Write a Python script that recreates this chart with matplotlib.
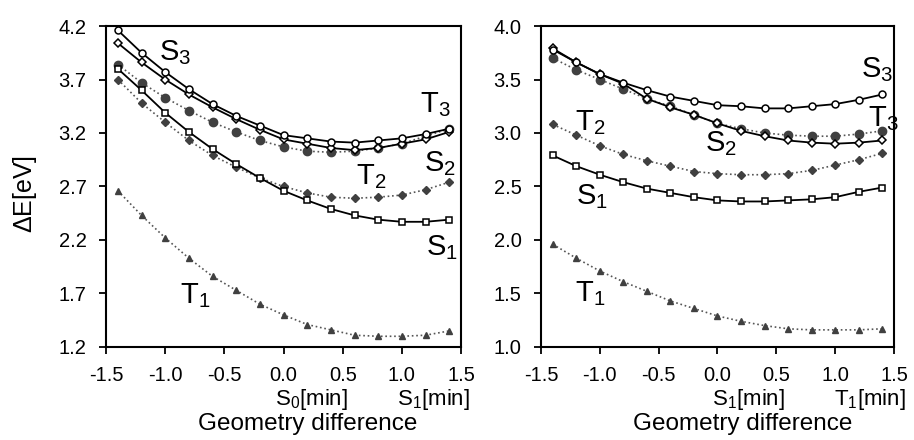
import numpy as np
import matplotlib
matplotlib.use('Agg')
import matplotlib.pyplot as plt

plt.rcParams['font.family'] = ['Liberation Sans', 'DejaVu Sans']
plt.rcParams['mathtext.default'] = 'regular'

x = [-1.4, -1.2, -1.0, -0.8, -0.6, -0.4, -0.2, 0.0, 0.2, 0.4, 0.6, 0.8, 1.0, 1.2, 1.4]

# left panel: S0 -> S1 geometry
l_S3 = [4.16, 3.95, 3.77, 3.61, 3.47, 3.36, 3.27, 3.18, 3.15, 3.12, 3.11, 3.13, 3.15, 3.19, 3.24]
l_S2 = [4.04, 3.86, 3.70, 3.56, 3.44, 3.33, 3.23, 3.14, 3.10, 3.06, 3.04, 3.06, 3.10, 3.14, 3.21]
l_T3 = [3.84, 3.67, 3.53, 3.41, 3.30, 3.21, 3.13, 3.07, 3.03, 3.02, 3.03, 3.06, 3.10, 3.17, 3.24]
l_S1 = [3.80, 3.60, 3.39, 3.21, 3.05, 2.91, 2.78, 2.66, 2.57, 2.49, 2.43, 2.39, 2.37, 2.37, 2.39]
l_T2 = [3.70, 3.48, 3.30, 3.13, 2.99, 2.88, 2.78, 2.70, 2.64, 2.60, 2.59, 2.60, 2.62, 2.67, 2.74]
l_T1 = [2.66, 2.43, 2.22, 2.03, 1.86, 1.73, 1.60, 1.50, 1.41, 1.36, 1.31, 1.30, 1.30, 1.31, 1.35]

# right panel: S1 -> T1 geometry
r_S3 = [3.78, 3.66, 3.55, 3.47, 3.40, 3.34, 3.30, 3.26, 3.25, 3.23, 3.23, 3.25, 3.27, 3.31, 3.36]
r_S2 = [3.79, 3.66, 3.55, 3.46, 3.32, 3.24, 3.17, 3.09, 3.02, 2.97, 2.93, 2.91, 2.90, 2.91, 2.93]
r_T3 = [3.70, 3.59, 3.50, 3.41, 3.32, 3.25, 3.17, 3.09, 3.04, 3.00, 2.98, 2.97, 2.97, 2.99, 3.02]
r_S1 = [2.79, 2.69, 2.61, 2.54, 2.48, 2.44, 2.40, 2.37, 2.36, 2.36, 2.37, 2.38, 2.40, 2.45, 2.49]
r_T2 = [3.08, 2.98, 2.88, 2.80, 2.74, 2.69, 2.64, 2.62, 2.61, 2.61, 2.62, 2.65, 2.70, 2.75, 2.81]
r_T1 = [1.96, 1.83, 1.71, 1.61, 1.52, 1.43, 1.36, 1.29, 1.24, 1.20, 1.17, 1.16, 1.16, 1.16, 1.17]

gray = '#404040'
dotc = '#555555'

def draw(ax, S3, S2, T3, S1, T2, T1):
    ax.plot(x, T1, ls=':', color=dotc, lw=1.2, marker='^', ms=5, mfc=gray, mec=gray)
    ax.plot(x, T2, ls=':', color=dotc, lw=1.2, marker='D', ms=4, mfc=gray, mec=gray)
    ax.plot(x, T3, ls=':', color=dotc, lw=1.2, marker='o', ms=6, mfc=gray, mec=gray)
    ax.plot(x, S1, ls='-', color='black', lw=1.3, marker='s', ms=4.5, mfc='white', mec='black', mew=1.1)
    ax.plot(x, S2, ls='-', color='black', lw=1.3, marker='D', ms=4.5, mfc='white', mec='black', mew=1.1)
    ax.plot(x, S3, ls='-', color='black', lw=1.3, marker='o', ms=5, mfc='white', mec='black', mew=1.1)
    ax.set_xlim(-1.5, 1.5)
    ax.set_xticks([-1.5, -1.0, -0.5, 0.0, 0.5, 1.0, 1.5])
    ax.set_xticklabels(['-1.5', '-1.0', '-0.5', '0.0', '0.5', '1.0', '1.5'])
    ax.tick_params(direction='out', length=5, width=1.3, labelsize=14.5)
    ax.tick_params(axis='x', pad=9)
    ax.tick_params(axis='y', pad=9)
    for s in ax.spines.values():
        s.set_linewidth(1.5)

fig = plt.figure(figsize=(9.14, 4.4), dpi=100)
ax1 = fig.add_axes([0.116, 0.2114, 0.3884, 0.7295])
ax2 = fig.add_axes([0.5919, 0.2114, 0.3862, 0.7295])

draw(ax1, l_S3, l_S2, l_T3, l_S1, l_T2, l_T1)
ax1.set_ylim(1.2, 4.2)
ax1.set_yticks([1.2, 1.7, 2.2, 2.7, 3.2, 3.7, 4.2])
ax1.set_yticklabels(['1.2', '1.7', '2.2', '2.7', '3.2', '3.7', '4.2'])
ax1.set_ylabel(r'$\Delta$E[eV]', fontsize=18)
ax1.yaxis.set_label_coords(-0.19, 0.477)

draw(ax2, r_S3, r_S2, r_T3, r_S1, r_T2, r_T1)
ax2.set_ylim(1.0, 4.0)
ax2.set_yticks([1.0, 1.5, 2.0, 2.5, 3.0, 3.5, 4.0])
ax2.set_yticklabels(['1.0', '1.5', '2.0', '2.5', '3.0', '3.5', '4.0'])

lab = dict(fontsize=21, ha='center', va='center')
ax1.text(-0.92, 3.95, 'S$_3$', **lab)
ax1.text(1.28, 3.47, 'T$_3$', **lab)
ax1.text(1.32, 2.91, 'S$_2$', **lab)
ax1.text(0.74, 2.79, 'T$_2$', **lab)
ax1.text(1.34, 2.13, 'S$_1$', **lab)
ax1.text(-0.75, 1.68, 'T$_1$', **lab)

ax2.text(1.36, 3.59, 'S$_3$', **lab)
ax2.text(1.41, 3.13, 'T$_3$', **lab)
ax2.text(0.03, 2.90, 'S$_2$', **lab)
ax2.text(-1.08, 3.10, 'T$_2$', **lab)
ax2.text(-1.07, 2.41, 'S$_1$', **lab)
ax2.text(-1.08, 1.50, 'T$_1$', **lab)

sub = dict(fontsize=16, ha='center', va='baseline')
ax1.text(0.235, -0.181, 'S$_0$[min]', transform=ax1.get_xaxis_transform(), **sub)
ax1.text(1.27, -0.181, 'S$_1$[min]', transform=ax1.get_xaxis_transform(), **sub)
ax2.text(0.26, -0.181, 'S$_1$[min]', transform=ax2.get_xaxis_transform(), **sub)
ax2.text(1.295, -0.181, 'T$_1$[min]', transform=ax2.get_xaxis_transform(), **sub)

xl = dict(fontsize=17.5, ha='center', va='baseline')
ax1.text(0.20, -0.259, 'Geometry difference', transform=ax1.get_xaxis_transform(), **xl)
ax2.text(0.216, -0.259, 'Geometry difference', transform=ax2.get_xaxis_transform(), **xl)

plt.savefig('out.png', dpi=100)
